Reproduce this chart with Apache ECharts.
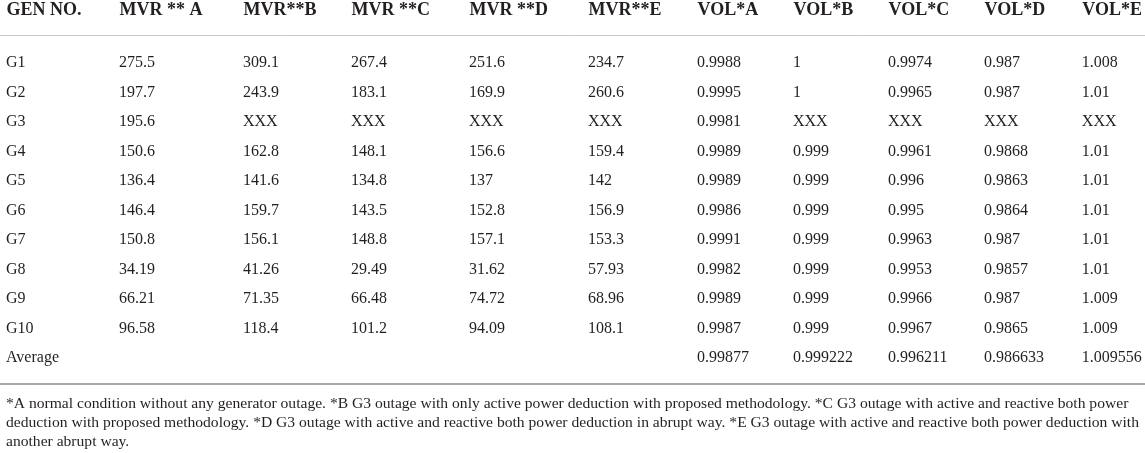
<!DOCTYPE html>
<html>
<head>
<meta charset="utf-8">
<title>Generator MVR and voltage table</title>
<script src="https://cdn.jsdelivr.net/npm/echarts@6.0.0/dist/echarts.min.js"></script>
<style>
  html, body { margin: 0; padding: 0; background: #fff; }
  #main { width: 1145px; height: 453px; }
</style>
</head>
<body>
<div id="main"></div>
<script>
// table content
var columns = ['GEN NO.', 'MVR ** A', 'MVR**B', 'MVR **C', 'MVR **D', 'MVR**E',
    'VOL*A', 'VOL*B', 'VOL*C', 'VOL*D', 'VOL*E'];
var rows = ['G1', 'G2', 'G3', 'G4', 'G5', 'G6', 'G7', 'G8', 'G9', 'G10', 'Average'];

// null = XXX (G3 out of service), MVR columns have no average
var mvrA = [275.5, 197.7, 195.6, 150.6, 136.4, 146.4, 150.8, 34.19, 66.21, 96.58];
var mvrB = [309.1, 243.9, null, 162.8, 141.6, 159.7, 156.1, 41.26, 71.35, 118.4];
var mvrC = [267.4, 183.1, null, 148.1, 134.8, 143.5, 148.8, 29.49, 66.48, 101.2];
var mvrD = [251.6, 169.9, null, 156.6, 137, 152.8, 157.1, 31.62, 74.72, 94.09];
var mvrE = [234.7, 260.6, null, 159.4, 142, 156.9, 153.3, 57.93, 68.96, 108.1];
var volA = [0.9988, 0.9995, 0.9981, 0.9989, 0.9989, 0.9986, 0.9991, 0.9982, 0.9989, 0.9987, 0.99877];
var volB = [1, 1, null, 0.999, 0.999, 0.999, 0.999, 0.999, 0.999, 0.999, 0.999222];
var volC = [0.9974, 0.9965, null, 0.9961, 0.996, 0.995, 0.9963, 0.9953, 0.9966, 0.9967, 0.996211];
var volD = [0.987, 0.987, null, 0.9868, 0.9863, 0.9864, 0.987, 0.9857, 0.987, 0.9865, 0.986633];
var volE = [1.008, 1.01, null, 1.01, 1.01, 1.01, 1.01, 1.01, 1.009, 1.009, 1.009556];

var footnote = [
    '*A normal condition without any generator outage. *B G3 outage with only active power deduction with proposed methodology. *C G3 outage with active and reactive both power',
    'deduction with proposed methodology. *D G3 outage with active and reactive both power deduction in abrupt way. *E G3 outage with active and reactive both power deduction with',
    'another abrupt way.'
];

// layout
var colLeft = [6, 119, 243, 351, 469, 588, 697, 793, 888, 984, 1082];
var rowTop = 48.5;
var rowHeight = 29.5;
var textColor = '#231f20';
var serif = '"Liberation Serif", "DejaVu Serif", serif';

var columnValues = [rows, mvrA, mvrB, mvrC, mvrD, mvrE, volA, volB, volC, volD, volE];

function cellText(values, i) {
    var v = values[i];
    return v == null ? 'XXX' : String(v);
}

var grids = [], xAxes = [], yAxes = [], series = [];
columnValues.forEach(function (values, c) {
    grids.push({ left: colLeft[c], width: 1, top: rowTop, height: rowHeight * rows.length });
    xAxes.push({
        type: 'category',
        gridIndex: c,
        data: [columns[c]],
        position: 'top',
        axisLine: { show: false },
        axisTick: { show: false },
        axisLabel: {
            interval: 0,
            align: 'left',
            margin: 29,
            color: textColor,
            fontFamily: serif,
            fontWeight: 'bold',
            fontSize: 18
        }
    });
    yAxes.push({
        type: 'category',
        gridIndex: c,
        data: rows,
        inverse: true,
        show: false
    });
    var data = [];
    for (var i = 0; i < values.length; i++) data.push([0, i]);
    series.push({
        type: 'custom',
        xAxisIndex: c,
        yAxisIndex: c,
        clip: false,
        silent: true,
        data: data,
        renderItem: function (params, api) {
            var p = api.coord([api.value(0), api.value(1)]);
            return {
                type: 'text',
                x: p[0] - 0.5,
                y: p[1],
                style: {
                    text: cellText(values, params.dataIndex),
                    fill: textColor,
                    font: '16px ' + serif,
                    textAlign: 'left',
                    textVerticalAlign: 'middle'
                }
            };
        }
    });
});

var chart = echarts.init(document.getElementById('main'), null, { renderer: 'canvas' });
chart.setOption({
    backgroundColor: '#fff',
    animation: false,
    grid: grids,
    xAxis: xAxes,
    yAxis: yAxes,
    series: series,
    graphic: [
        { type: 'line', shape: { x1: 0, y1: 35.5, x2: 1145, y2: 35.5 }, style: { stroke: '#c8c8c8', lineWidth: 1 } },
        { type: 'line', shape: { x1: 0, y1: 384, x2: 1145, y2: 384 }, style: { stroke: '#a8a8a8', lineWidth: 2 } },
        {
            type: 'text',
            left: 6,
            top: 394,
            style: {
                text: footnote.join('\n'),
                fill: textColor,
                font: '15.6px ' + serif,
                lineHeight: 19
            }
        }
    ]
});
</script>
</body>
</html>
